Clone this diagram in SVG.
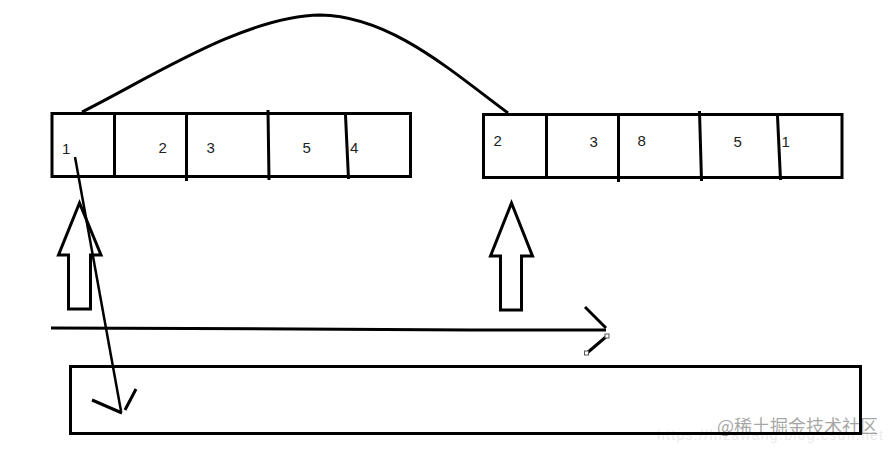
<svg xmlns="http://www.w3.org/2000/svg" width="893" height="452" viewBox="0 0 893 452">
<style>
.l{fill:none;stroke:#000;stroke-width:3;stroke-linejoin:miter}
.t{font-family:"Liberation Sans",Arial,sans-serif;font-size:15px;fill:#222}
</style>
<rect width="893" height="452" fill="#fff"/>
<g id="array-a">
<rect class="l" x="52" y="113.500" width="358.500" height="63"/>
<path class="l" d="M114.500 114V176M186.500 114V181M268 110L269 180M345.500 115L348.500 179"/>
<text class="t" x="62" y="154">1</text><text class="t" x="158.500" y="153">2</text><text class="t" x="206.500" y="153">3</text><text class="t" x="302.500" y="153">5</text><text class="t" x="350" y="153">4</text>
</g>
<g id="array-b">
<rect class="l" x="483.500" y="114.500" width="358.500" height="63"/>
<path class="l" d="M546.500 115V177M618.500 115V182M699.500 111L701.500 181M777.500 116L780.500 180"/>
<text class="t" x="493.500" y="146">2</text><text class="t" x="589.500" y="147">3</text><text class="t" x="637.500" y="146">8</text><text class="t" x="733.500" y="147">5</text><text class="t" x="781.500" y="147">1</text>
</g>
<g id="up-arrow-a"><path class="l" d="M68.500 309V255H58.500L79.500 203L101 255H90.500V309Z"/></g>
<g id="up-arrow-b"><path class="l" d="M500.500 310V256H490.500L511.500 203L532.500 256H521.500V310Z"/></g>
<g id="bottom-box"><rect class="l" x="70.500" y="366.500" width="790" height="67"/></g>
<g id="connectors">
<path class="l" d="M82 112C150 78 245 16 320 15C390 16 450 70 508 113"/>
<path class="l" style="stroke-width:2.500" d="M75 157L121 411"/>
<path class="l" d="M92 400L122 413M125 410L136 389"/>
<path class="l" d="M51 328L190 328.500L470 330H606"/>
<path class="l" d="M585 307L606 328M607 336L587 353"/>
<rect x="605" y="334" width="4" height="4" fill="#fff" stroke="#555"/>
<rect x="584.500" y="351" width="4" height="4" fill="#fff" stroke="#555"/>
</g>
<g id="watermark">
<text x="657" y="440" font-family="'Liberation Sans',sans-serif" font-size="14" textLength="226" fill="#000" opacity=".08">https://hizawang.blog.csdn.net</text>
<text x="717" y="433" font-family="'Noto Sans CJK SC',sans-serif" font-size="18" fill="#000" opacity=".35">@稀土掘金技术社区</text>
</g>
</svg>
